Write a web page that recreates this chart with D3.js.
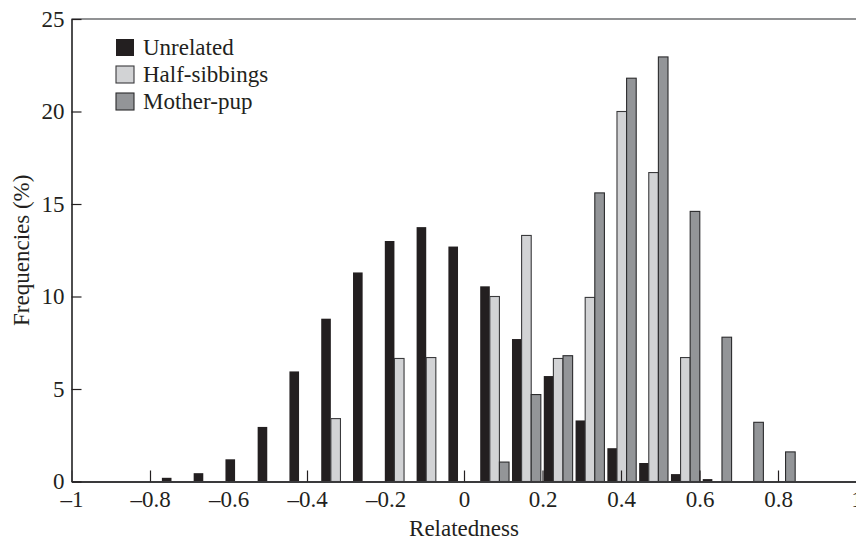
<!DOCTYPE html>
<html>
<head>
<meta charset="utf-8">
<script src="https://cdn.jsdelivr.net/npm/d3@7"></script>
<style>
    body { margin: 0; background: #fff; }
    svg { display: block; font-family: "Liberation Serif", "DejaVu Serif", serif; }
    .tick-label { font-size: 23px; fill: #231f20; }
    .axis-title { font-size: 23px; fill: #231f20; }
    .legend-label { font-size: 23px; fill: #231f20; }
</style>
</head>
<body>
<svg id="chart"></svg>
<script>
// Relatedness bins (centre of each group of three bars)
const binCenters = [-0.733, -0.652, -0.571, -0.489, -0.408, -0.327, -0.246, -0.165, -0.084, -0.003,
    0.078, 0.159, 0.240, 0.321, 0.402, 0.483, 0.564, 0.645, 0.726, 0.807];

// Frequencies (%) per bin
const unrelated = [0.2, 0.45, 1.2, 2.95, 5.95, 8.8, 11.3, 13.0, 13.75, 12.7,
    10.55, 7.7, 5.7, 3.3, 1.8, 1.0, 0.4, 0.13, 0, 0];
const halfSibbings = [0, 0, 0, 0, 0, 3.4, 0, 6.65, 6.7, 0,
    10.0, 13.3, 6.65, 9.95, 20.0, 16.7, 6.7, 0, 0, 0];
const motherPup = [0, 0, 0, 0, 0, 0, 0, 0, 0, 0,
    1.05, 4.7, 6.8, 15.6, 21.8, 22.95, 14.6, 7.8, 3.2, 1.6];

const seriesNames = ['Unrelated', 'Half-sibbings', 'Mother-pup'];
const xTicks = [-1, -0.8, -0.6, -0.4, -0.2, 0, 0.2, 0.4, 0.6, 0.8, 1];
const yTicks = [0, 5, 10, 15, 20, 25];

const Chart = {
    svg: null,
    x: null,
    y: null,
    W: 856,
    H: 539,
    plot: { left: 71.5, right: 856.5, top: 19, bottom: 481.5 },
    colors: ['#231f20', '#d2d3d5', '#939598'],
    strokes: ['none', '#3a3a3c', '#2b2b2d'],
    barWidth: 0.0245, // in relatedness units

    render() {
        this.svg = d3.select('#chart')
            .attr('width', this.W)
            .attr('height', this.H);

        this.x = d3.scaleLinear().domain([-1, 1]).range([this.plot.left, this.plot.right]);
        this.y = d3.scaleLinear().domain([0, 25]).range([this.plot.bottom, this.plot.top]);

        this.drawBars();
        this.drawAxes();
        this.drawLegend();
    },

    /**
     * Three bars per bin: unrelated, half-sibbings, mother-pup
     */
    drawBars() {
        const series = [unrelated, halfSibbings, motherPup];
        const bw = this.x(this.barWidth) - this.x(0);

        series.forEach((values, s) => {
            const rows = binCenters
                .map((c, i) => ({ c, v: values[i] }))
                .filter(d => d.v > 0);

            this.svg.append('g')
                .selectAll('rect')
                .data(rows)
                .enter()
                .append('rect')
                .attr('x', d => this.x(d.c + (s - 1) * this.barWidth) - bw / 2)
                .attr('y', d => this.y(d.v))
                .attr('width', bw)
                .attr('height', d => this.y(0) - this.y(d.v))
                .attr('fill', this.colors[s])
                .attr('stroke', this.strokes[s])
                .attr('stroke-width', 1.1);
        });
    },

    /**
     * Axes with inward ticks, plus the top frame line
     */
    drawAxes() {
        const fmt = d => {
            const t = d3.format('~g')(Math.abs(d));
            return d < 0 ? '\u2013' + t : t;
        };

        // top frame
        this.svg.append('line')
            .attr('x1', this.plot.left).attr('x2', this.W)
            .attr('y1', this.plot.top).attr('y2', this.plot.top)
            .attr('stroke', '#6d6e71')
            .attr('stroke-width', 1.6);

        // x axis
        const xAxis = this.svg.append('g')
            .attr('transform', `translate(0,${this.plot.bottom})`)
            .call(d3.axisBottom(this.x)
                .tickValues(xTicks)
                .tickSizeInner(-11)
                .tickSizeOuter(0)
                .tickPadding(9)
                .tickFormat(fmt));
        xAxis.select('.domain').attr('stroke', '#3a3a3c').attr('stroke-width', 1.8);
        xAxis.selectAll('.tick line').attr('stroke', '#231f20').attr('stroke-width', 1.2);
        xAxis.selectAll('.tick text').attr('class', 'tick-label');
        xAxis.attr('font-size', null).attr('font-family', null);

        // y axis
        const yAxis = this.svg.append('g')
            .attr('transform', `translate(${this.plot.left},0)`)
            .call(d3.axisLeft(this.y)
                .tickValues(yTicks)
                .tickSizeInner(-10)
                .tickSizeOuter(0)
                .tickPadding(7)
                .tickFormat(d3.format('d')));
        yAxis.select('.domain').attr('stroke', '#3a3a3c').attr('stroke-width', 1.8);
        yAxis.selectAll('.tick line').attr('stroke', '#231f20').attr('stroke-width', 1.2);
        yAxis.selectAll('.tick text').attr('class', 'tick-label');
        yAxis.attr('font-size', null).attr('font-family', null);

        // axis titles
        this.svg.append('text')
            .attr('class', 'axis-title')
            .attr('x', (this.plot.left + this.plot.right) / 2)
            .attr('y', 536)
            .attr('text-anchor', 'middle')
            .text('Relatedness');

        this.svg.append('text')
            .attr('class', 'axis-title')
            .attr('transform', `translate(29,${(this.plot.top + this.plot.bottom) / 2}) rotate(-90)`)
            .attr('text-anchor', 'middle')
            .text('Frequencies (%)');
    },

    /**
     * Legend in the upper left corner
     */
    drawLegend() {
        const lg = this.svg.append('g').attr('transform', 'translate(116,39)');
        const row = lg.selectAll('g')
            .data(seriesNames)
            .enter()
            .append('g')
            .attr('transform', (d, i) => `translate(0,${i * 27})`);

        row.append('rect')
            .attr('width', 18)
            .attr('height', 17)
            .attr('fill', (d, i) => this.colors[i])
            .attr('stroke', (d, i) => this.strokes[i])
            .attr('stroke-width', 1.1);

        row.append('text')
            .attr('class', 'legend-label')
            .attr('x', 27)
            .attr('y', 16)
            .text(d => d);
    }
};

Chart.render();
</script>
</body>
</html>
